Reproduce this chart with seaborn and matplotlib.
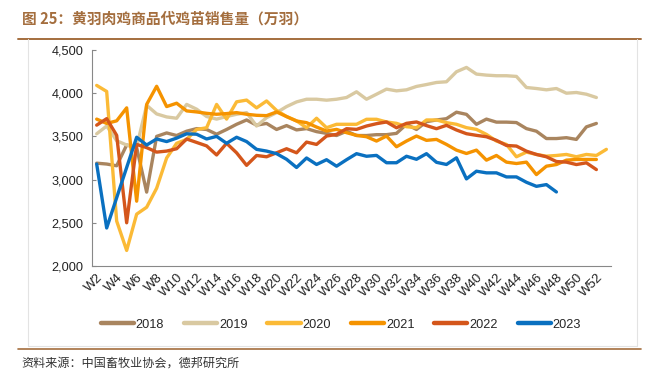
import numpy as np
import pandas as pd
import matplotlib.pyplot as plt
from matplotlib.lines import Line2D
from matplotlib.ticker import FuncFormatter, MultipleLocator
import seaborn as sns

weeks = ["W%d" % w for w in range(2, 54)]

y2018 = [3190, 3180, 3160, 3400, 3370, 2855, 3500, 3540, 3510, 3560, 3590, 3580, 3525,
         3580, 3640, 3690, 3630, 3650, 3580, 3625, 3575, 3590, 3555, 3535, 3510, 3560,
         3510, 3510, 3520, 3520, 3535, 3640, 3580, 3670, 3690, 3705, 3780, 3755, 3640,
         3700, 3665, 3665, 3660, 3590, 3560, 3475, 3475, 3485, 3465, 3610, 3650]
y2019 = [3530, 3620, 3450, 3400, 3380, 3860, 3760, 3725, 3710, 3870, 3815, 3730, 3700,
         3730, 3756, 3775, 3620, 3717, 3775, 3845, 3899, 3930, 3930, 3919, 3930, 3950,
         4016, 3930, 3988, 4047, 4027, 4039, 4078, 4100, 4124, 4132, 4248, 4298, 4221,
         4209, 4202, 4202, 4194, 4066, 4054, 4039, 4054, 4000, 4008, 3988, 3950]
y2020 = [4090, 4020, 2520, 2180, 2600, 2680, 2900, 3250, 3420, 3465, 3580, 3600, 3870,
         3700, 3900, 3920, 3830, 3910, 3800, 3730, 3680, 3600, 3710, 3600, 3640, 3640,
         3640, 3698, 3698, 3667, 3651, 3612, 3601, 3690, 3690, 3659, 3640, 3601, 3581,
         3523, 3446, 3407, 3264, 3318, 3291, 3271, 3279, 3291, 3264, 3291, 3279, 3350]
y2021 = [3700, 3650, 3680, 3830, 2750, 3870, 4080, 3845, 3884, 3795, 3783, 3767, 3756,
         3764, 3775, 3756, 3744, 3740, 3783, 3729, 3678, 3659, 3608, 3562, 3581, 3543,
         3512, 3496, 3446, 3504, 3380, 3446, 3504, 3454, 3465, 3407, 3341, 3302, 3341,
         3225, 3279, 3202, 3186, 3202, 3058, 3155, 3174, 3225, 3233, 3233, 3233]
y2022 = [3630, 3705, 3512, 2500, 3407, 3370, 3318, 3330, 3357, 3470, 3430, 3390, 3285,
         3420, 3310, 3165, 3279, 3264, 3310, 3357, 3310, 3434, 3407, 3504, 3523, 3589,
         3581, 3620, 3647, 3667, 3600, 3651, 3667, 3625, 3589, 3628, 3574, 3531, 3512,
         3496, 3454, 3395, 3388, 3329, 3291, 3264, 3209, 3202, 3174, 3194, 3116]
y2023 = [3180, 2440, 2790, 3140, 3490, 3400, 3470, 3440, 3480, 3530, 3525, 3470, 3500,
         3420, 3490, 3440, 3350, 3330, 3300, 3235, 3140, 3250, 3175, 3230, 3155, 3230,
         3300, 3270, 3280, 3195, 3195, 3270, 3235, 3300, 3200, 3175, 3252, 3008, 3097,
         3078, 3078, 3031, 3031, 2969, 2922, 2942, 2857]

years = ["2018", "2019", "2020", "2021", "2022", "2023"]
series = [y2018, y2019, y2020, y2021, y2022, y2023]
colors = ["#A9855F", "#D9C9A1", "#FBBA36", "#F59300", "#D4561B", "#0A70C0"]

frames = []
for yr, vals in zip(years, series):
    frames.append(pd.DataFrame({"week": weeks[:len(vals)], "value": vals, "year": yr}))
df = pd.concat(frames, ignore_index=True)
df["pos"] = df["week"].map({w: i for i, w in enumerate(weeks)})

sns.set_style("white")
plt.rcParams['font.family'] = ['Liberation Sans', 'Noto Sans CJK SC']

fig = plt.figure(figsize=(6.62, 3.83), dpi=100)
ax = fig.add_axes([0.1385, 0.3055, 0.785, 0.564])

sns.lineplot(data=df, x="pos", y="value", hue="year", palette=dict(zip(years, colors)),
             linewidth=2.4, ax=ax, legend=False, sort=False)

ax.set_xlim(-0.5, len(weeks) - 0.5)
ax.set_ylim(2000, 4500)
ax.yaxis.set_major_locator(MultipleLocator(500))
ax.yaxis.set_major_formatter(FuncFormatter(lambda v, p: "{:,.0f}".format(v)))
ax.set_xticks(range(0, len(weeks), 2))
ax.set_xticklabels(weeks[::2], rotation=45, ha="right", va="top", rotation_mode="anchor")
ax.set_xticks(np.arange(-0.5, len(weeks), 1), minor=True)
ax.tick_params(axis="x", which="major", length=0, labelsize=9.5, pad=4, colors="#222222")
ax.tick_params(axis="x", which="minor", direction="in", length=3, width=0.8, color="#888888")
ax.tick_params(axis="y", direction="in", length=3, width=0.8, color="#888888",
               labelsize=9.2, pad=6, labelcolor="#222222", left=True)
ax.set_xlabel("")
ax.set_ylabel("")
for s in ["top", "right"]:
    ax.spines[s].set_visible(False)
for s in ["left", "bottom"]:
    ax.spines[s].set_color("#888888")
    ax.spines[s].set_linewidth(0.8)

handles = [Line2D([0], [0], color=c, lw=3.2) for c in colors]
fig.legend(handles, years, loc="center", bbox_to_anchor=(0.515, 0.152), ncol=6,
           frameon=False, fontsize=9.2, handlelength=2.6, columnspacing=1.55,
           handletextpad=0.15)

# header / footer decorations
title_c = "#A46E3E"
fig.text(0.033, 0.952, "图 25：黄羽肉鸡商品代鸡苗销售量（万羽）", fontsize=10.6, fontweight="bold",
         color=title_c, ha="left", va="center",
         family=['Noto Sans CJK SC', 'DejaVu Sans'])
fig.add_artist(Line2D([0.027, 0.968], [0.897, 0.897], color=title_c, lw=1.4))
fig.add_artist(Line2D([0.042, 0.042], [0.897, 0.097], color="#E3E3E3", lw=0.8))
fig.add_artist(Line2D([0.962, 0.962], [0.897, 0.097], color="#E3E3E3", lw=0.8))
fig.add_artist(Line2D([0.042, 0.962], [0.097, 0.097], color="#E3E3E3", lw=0.8))
fig.add_artist(Line2D([0.027, 0.968], [0.090, 0.090], color=title_c, lw=1.2))
fig.text(0.033, 0.052, "资料来源：中国畜牧业协会，德邦研究所", fontsize=8.7, color="#333333",
         ha="left", va="center", family=['Noto Sans CJK SC', 'DejaVu Sans'])

fig.savefig("out.png", dpi=100)
